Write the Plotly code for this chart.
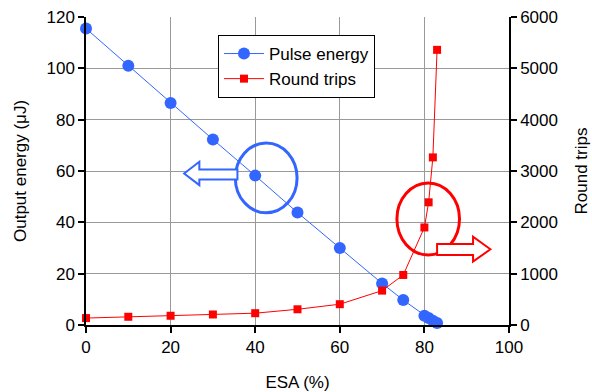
import plotly.graph_objects as go

# ESA setting (%) for each measurement
esa = [0, 10, 20, 30, 40, 50, 60, 70, 75, 80, 81, 82, 83]
# Output pulse energy (uJ)
pulse_energy = [115.5, 101, 86.5, 72.3, 58.2, 43.8, 30.0, 16.2, 9.7, 3.6, 2.7, 1.7, 0.8]
# Number of round trips
round_trips = [135, 160, 180, 205, 230, 306, 405, 670, 975, 1900, 2390, 3265, 5360]

BLUE = "#3366FF"
RED = "#FF0000"
FONT = "Liberation Sans, Arial, sans-serif"
FS = 17

fig = go.Figure()
fig.add_trace(go.Scatter(
    x=esa, y=pulse_energy, name="Pulse energy", mode="lines+markers",
    line=dict(color=BLUE, width=1), marker=dict(symbol="circle", size=12, color=BLUE),
    cliponaxis=False, yaxis="y",
))
fig.add_trace(go.Scatter(
    x=esa, y=round_trips, name="Round trips", mode="lines+markers",
    line=dict(color=RED, width=1), marker=dict(symbol="square", size=8, color=RED),
    cliponaxis=False, yaxis="y2",
))

# Ellipses marking which curve belongs to which axis
fig.add_shape(type="circle", xref="x", yref="y", x0=35.3, x1=49.9, y0=43.7, y1=70.9,
              line=dict(color=BLUE, width=3), layer="above")
fig.add_shape(type="circle", xref="x", yref="y", x0=73.5, x1=88.3, y0=27.3, y1=55.3,
              line=dict(color=RED, width=3), layer="above")

# Block arrows pointing to the left and right axes
left_arrow = ("M 23.2 59.0 L 26.8 63.6 L 26.8 60.6 L 35.8 60.6 "
              "L 35.8 56.7 L 26.8 56.7 L 26.8 54.5 Z")
right_arrow = ("M 95.6 29.5 L 91.5 34.4 L 91.5 31.6 L 83.0 31.6 "
               "L 83.0 27.3 L 91.5 27.3 L 91.5 24.7 Z")
fig.add_shape(type="path", xref="x", yref="y", path=left_arrow,
              line=dict(color=BLUE, width=2), fillcolor="white", layer="above")
fig.add_shape(type="path", xref="x", yref="y", path=right_arrow,
              line=dict(color=RED, width=2), fillcolor="white", layer="above")

axis_common = dict(
    showline=True, linecolor="black", linewidth=1.5,
    ticks="outside", ticklen=6, tickcolor="black", tickwidth=1.5,
    tickfont=dict(size=FS, color="black", family=FONT),
    zeroline=False, automargin=False,
)

fig.update_layout(
    width=592, height=392,
    margin=dict(l=86, r=83, t=17, b=67),
    paper_bgcolor="white", plot_bgcolor="white",
    font=dict(family=FONT, size=FS, color="black"),
    showlegend=True,
    legend=dict(
        x=0.312, y=0.9416, xanchor="left", yanchor="top",
        bgcolor="white", bordercolor="black", borderwidth=1,
        font=dict(size=FS, family=FONT, color="black"),
        tracegroupgap=0, itemwidth=40,
    ),
    xaxis=dict(
        range=[0, 100], dtick=20, showgrid=True, gridcolor="#999999", gridwidth=1,
        title=dict(text="ESA (%)", font=dict(size=FS), standoff=20),
        **axis_common,
    ),
    yaxis=dict(
        range=[0, 120], dtick=20, showgrid=True, gridcolor="#999999", gridwidth=1,
        title=dict(text="Output energy (μJ)", font=dict(size=FS), standoff=16),
        **axis_common,
    ),
    yaxis2=dict(
        range=[0, 6000], dtick=1000, overlaying="y", side="right", showgrid=False,
        title=dict(text="Round trips", font=dict(size=FS), standoff=18),
        **axis_common,
    ),
)

fig.write_html("out.html")
